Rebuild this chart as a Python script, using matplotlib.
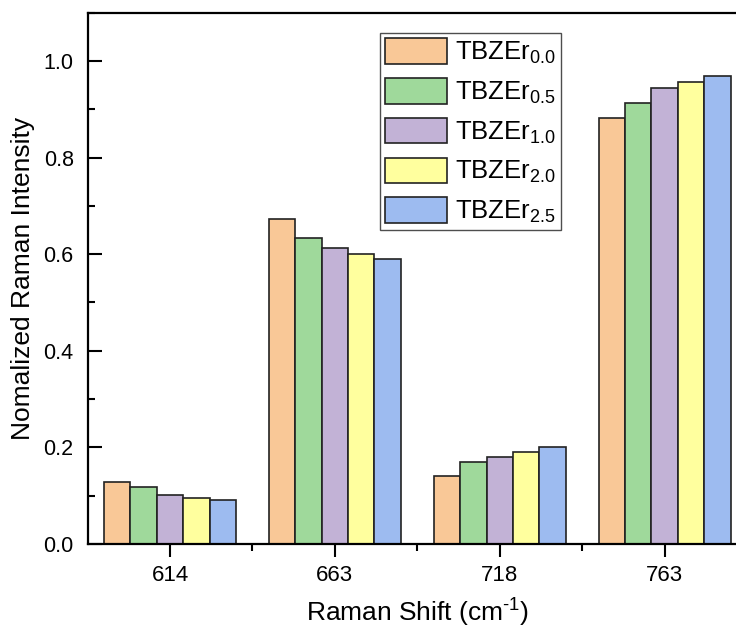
import numpy as np
import matplotlib
matplotlib.use("Agg")
from matplotlib import pyplot as plt
from matplotlib.ticker import MultipleLocator, FixedLocator

plt.rcParams['font.family'] = ['Liberation Sans', 'DejaVu Sans']
plt.rcParams['mathtext.fontset'] = 'custom'
plt.rcParams['mathtext.rm'] = 'Liberation Sans'
plt.rcParams['mathtext.it'] = 'Liberation Sans'

# data
shifts = ['614', '663', '718', '763']
series = ['TBZEr$_{0.0}$', 'TBZEr$_{0.5}$', 'TBZEr$_{1.0}$', 'TBZEr$_{2.0}$', 'TBZEr$_{2.5}$']
er00 = [0.129, 0.673, 0.141, 0.881]
er05 = [0.117, 0.633, 0.170, 0.912]
er10 = [0.102, 0.612, 0.179, 0.943]
er20 = [0.096, 0.601, 0.190, 0.956]
er25 = [0.091, 0.590, 0.200, 0.968]
colors = ['#F9C897', '#9FD99B', '#C2B2D6', '#FFFF9E', '#9DBBF0']

values = [er00, er05, er10, er20, er25]

fig = plt.figure(figsize=(7.36, 6.31), dpi=100)
ax = fig.add_axes([0.119, 0.138, 0.896, 0.842])

x = np.arange(len(shifts))
w = 0.16
for i, (vals, lab, c) in enumerate(zip(values, series, colors)):
    ax.bar(x + (i - 2) * w, vals, width=w, color=c, edgecolor='#222222',
           linewidth=1.2, label=lab)

ax.set_xlim(-0.5, 3.5)
ax.set_ylim(0, 1.1)
ax.set_xticks(x)
ax.set_xticklabels(shifts)
ax.xaxis.set_minor_locator(FixedLocator([0.5, 1.5, 2.5]))
ax.yaxis.set_major_locator(MultipleLocator(0.2))
ax.yaxis.set_minor_locator(MultipleLocator(0.1))
ax.set_yticklabels([f'{v:.1f}' for v in ax.get_yticks()])

for s in ax.spines.values():
    s.set_linewidth(1.6)
# x ticks point out, y ticks point in
ax.tick_params(axis='x', which='major', direction='out', length=9, width=1.5, labelsize=16, pad=6)
ax.tick_params(axis='x', which='minor', direction='out', length=5, width=1.5)
ax.tick_params(axis='y', which='major', direction='in', length=10, width=1.5, labelsize=15.5, pad=10)
ax.tick_params(axis='y', which='minor', direction='in', length=5, width=1.5)
ax.tick_params(axis='x', which='both', top=False)
ax.tick_params(axis='y', which='both', right=False)

ax.set_xlabel(r'Raman Shift (cm$^{\text{-1}}$)', fontsize=19, labelpad=8)
ax.set_ylabel('Nomalized Raman Intensity', fontsize=19, labelpad=6)

leg = ax.legend(loc='upper left', bbox_to_anchor=(0.4435, 0.961), fontsize=18.5,
                frameon=True, fancybox=False, edgecolor='#222222',
                handlelength=2.4, handleheight=1.15, labelspacing=0.47,
                handletextpad=0.3, borderpad=0.2, borderaxespad=0)
leg.get_frame().set_linewidth(1.0)

fig.savefig('out.png', dpi=100)
